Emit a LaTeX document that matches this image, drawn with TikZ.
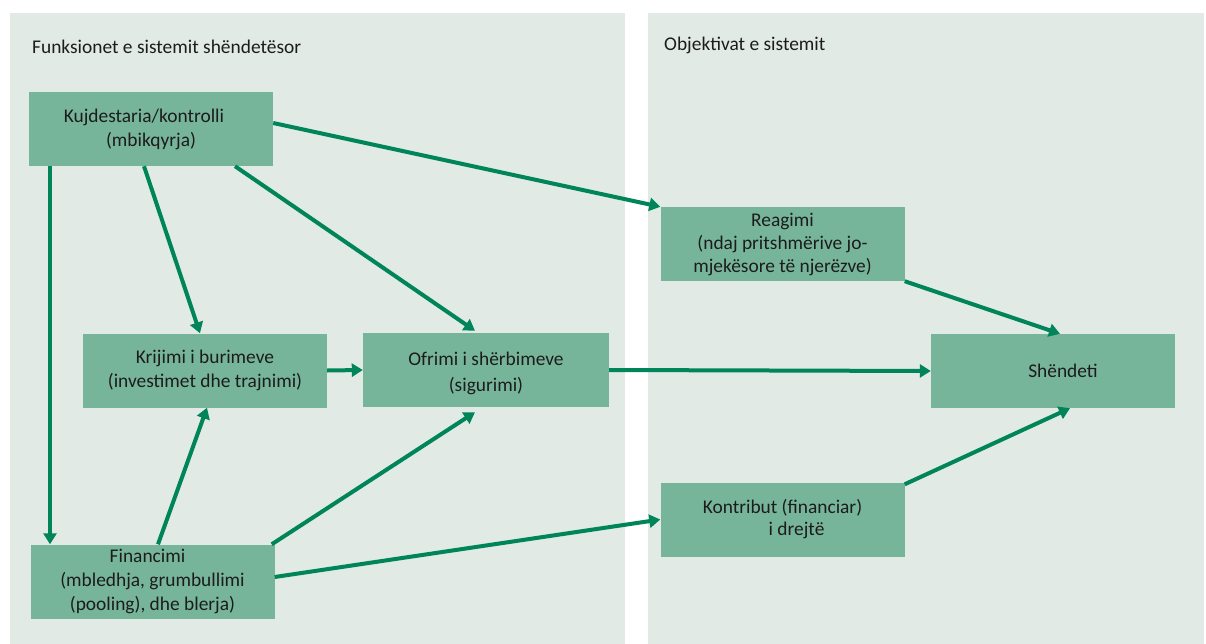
\documentclass[tikz,border=0pt]{standalone}
\usepackage{fontspec}
\setmainfont{Carlito}
\usetikzlibrary{arrows.meta}
\definecolor{panelbg}{RGB}{225,234,229}
\definecolor{boxfill}{RGB}{119,181,155}
\definecolor{flow}{RGB}{0,132,90}
\definecolor{ink}{RGB}{28,28,28}
\begin{document}
\begin{tikzpicture}[x=1pt,y=-1pt,
  panel/.style={fill=panelbg, draw=none},
  func/.style={fill=boxfill, draw=none, minimum width=244pt, minimum height=74pt,
    inner sep=0pt, align=center, text=ink, font=\fontsize{19.4}{24}\selectfont},
  heading/.style={anchor=base west, inner sep=0pt, text=ink, font=\fontsize{19.4}{24}\selectfont},
  flowarrow/.style={draw=flow, line width=4pt, -{Triangle[length=11pt,width=13pt]}}
]
\useasboundingbox (0,0) rectangle (1206,644);

% background panels
\fill[panel] (10,13) rectangle (625,644);
\fill[panel] (648,13) rectangle (1204,644);

% panel headings
\node[heading] (ftitle) at (32,54) {Funksionet e sistemit shëndetësor};
\node[heading] (otitle) at (664,51) {Objektivat e sistemit};

% system functions
\node[func] (kuj) at (151,129) {Kujdestaria/kontrolli\hspace*{14pt}\\(mbikqyrja)};
\node[func] (kri) at (205,370.5) {Krijimi i burimeve\\(investimet dhe trajnimi)};
\node[func, minimum width=246pt, font=\fontsize{19.4}{26}\selectfont] (ofr) at (486,370) {\rule{0pt}{20pt}Ofrimi i shërbimeve\\(sigurimi)};
\node[func] (fin) at (152.5,581.5) {Financimi\hspace*{10pt}\\(mbledhja, grumbullimi\\(pooling), dhe blerja)};

% system objectives
\node[func, font=\fontsize{19.4}{23}\selectfont] (rea) at (782.5,244) {Reagimi\\(ndaj pritshmërive jo-\\mjekësore të njerëzve)};
\node[func] (she) at (1053,371) {\hspace*{20pt}Shëndeti};
\node[func, font=\fontsize{19.4}{22}\selectfont] (kon) at (782.5,519.5) {Kontribut (financiar)\\\hspace*{28pt}i drejtë};

% connections
\draw[flowarrow] ([yshift=6pt]kuj.east) -- (rea.north west);
\draw[flowarrow] ([xshift=-101pt]kuj.south) -- ([xshift=-102.5pt]fin.north);
\draw[flowarrow] ([xshift=-7pt]kuj.south) -- ([xshift=-5pt]kri.north);
\draw[flowarrow] ([xshift=84pt]kuj.south) -- ([xshift=-11pt,yshift=2pt]ofr.north);
\draw[flowarrow] (kri.east) -- (ofr.west);
\draw[flowarrow] ([xshift=5.5pt]fin.north) -- ([xshift=2pt]kri.south);
\draw[flowarrow] ([xshift=-3pt]fin.north east) -- ([xshift=-11pt,yshift=-5pt]ofr.south);
\draw[flowarrow] ([yshift=4.5pt]fin.east) -- (kon.west);
\draw[flowarrow] (ofr.east) -- (she.west);
\draw[flowarrow] (rea.south east) -- ([xshift=7pt]she.north);
\draw[flowarrow] ([yshift=-2pt]kon.north east) -- ([xshift=17pt]she.south);
\end{tikzpicture}
\end{document}
